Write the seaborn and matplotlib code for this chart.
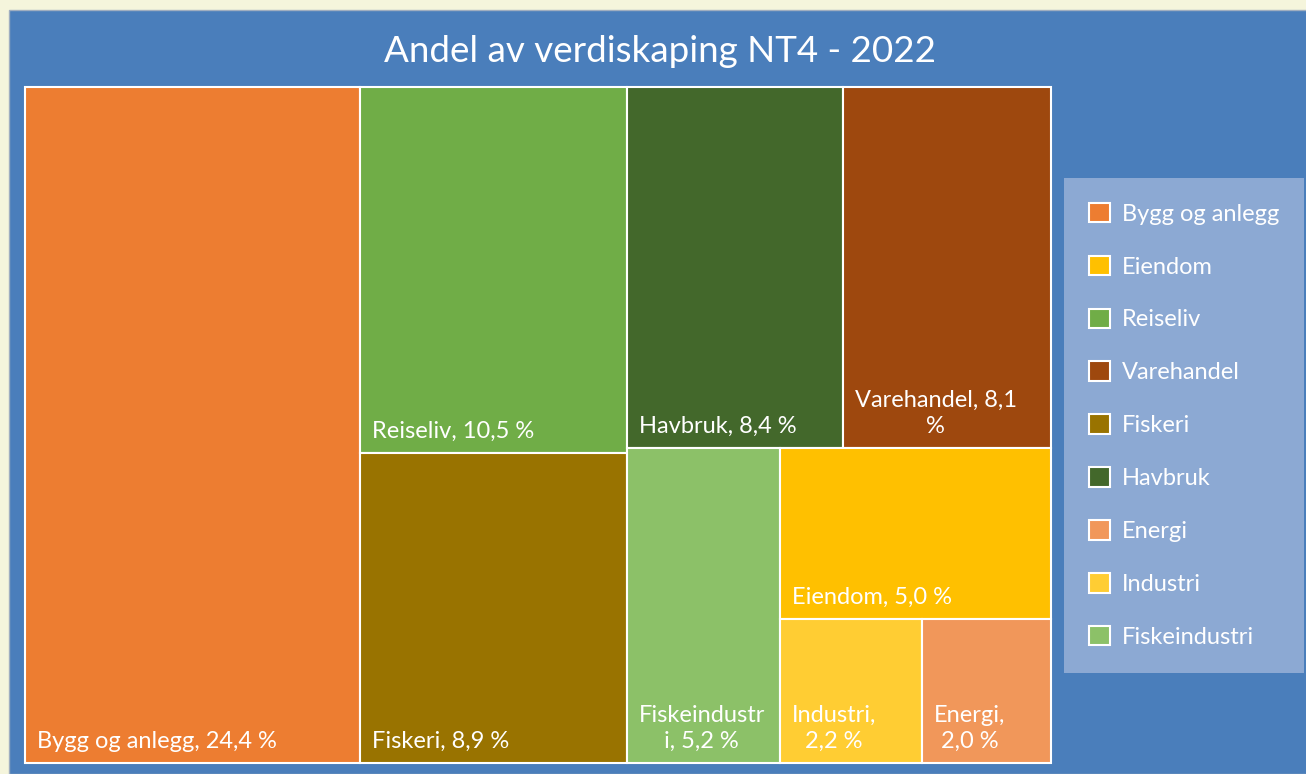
import matplotlib
matplotlib.use("Agg")
import matplotlib.pyplot as plt
from matplotlib.patches import Patch, Rectangle
import seaborn as sns

# Data
names = ["Bygg og anlegg", "Reiseliv", "Fiskeri", "Havbruk", "Varehandel",
         "Fiskeindustri", "Eiendom", "Industri", "Energi"]
shares = [24.4, 10.5, 8.9, 8.4, 8.1, 5.2, 5.0, 2.2, 2.0]
colors = ["#ED7D31", "#70AD47", "#997300", "#43682B", "#9E480E",
          "#8CC168", "#FFC000", "#FFCD33", "#F1975A"]
labels = ["Bygg og anlegg, 24,4 %", "Reiseliv, 10,5 %", "Fiskeri, 8,9 %",
          "Havbruk, 8,4 %", "Varehandel, 8,1\n%", "Fiskeindustr\ni, 5,2 %",
          "Eiendom, 5,0 %", "Industri,\n2,2 %", "Energi,\n2,0 %"]
legend_order = ["Bygg og anlegg", "Eiendom", "Reiseliv", "Varehandel", "Fiskeri",
                "Havbruk", "Energi", "Industri", "Fiskeindustri"]

# treemap nesting: "h" = side by side, "v" = stacked top to bottom
tree = ("h", [0, ("v", [1, 2]),
              ("v", [("h", [3, 4]), ("h", [5, ("v", [6, ("h", [7, 8])])])])])


def total(node):
    if isinstance(node, int):
        return shares[node]
    return sum(total(c) for c in node[1])


def place(node, x, y, w, h, out):
    if isinstance(node, int):
        out[node] = (x, y, w, h)
        return
    d, kids = node
    t = total(node)
    for k in kids:
        f = total(k) / t
        if d == "h":
            place(k, x, y, w * f, h, out)
            x += w * f
        else:
            place(k, x, y, w, h * f, out)
            y += h * f


rects = {}
place(tree, 0, 0, 1, 1, rects)

sns.set_theme(style="white")
plt.rcParams["font.family"] = ["Lato", "DejaVu Sans"]

W, H = 1306, 774
fig = plt.figure(figsize=(W / 100, H / 100), dpi=100, facecolor="#F5F5DC")
fig.add_artist(Rectangle((9 / W, 0), 1, 1 - 10 / H, transform=fig.transFigure,
                         facecolor="#4A7EBB", edgecolor="#A0AEC0", lw=1, zorder=-5))

ax = fig.add_axes([25 / W, 11 / H, 1026 / W, 676 / H])
ax.set_xlim(0, 1)
ax.set_ylim(1, 0)
ax.axis("off")

for i in range(len(names)):
    x, y, w, h = rects[i]
    ax.bar(x, h, width=w, bottom=y, align="edge", color=colors[i],
           edgecolor="white", linewidth=1.5, clip_on=False)
    ax.annotate(labels[i], xy=(x, y + h), xytext=(8.6, 8.0), textcoords="offset points",
                ha="left", va="bottom", multialignment="center", linespacing=1.3,
                color="white", fontsize=17)

fig.text(660 / W, 1 - 52 / H, "Andel av verdiskaping NT4 - 2022", ha="center",
         va="center", color="white", fontsize=26.5)

handles = [Patch(facecolor=colors[names.index(n)], edgecolor="white", linewidth=1.5)
           for n in legend_order]
leg = fig.legend(handles, legend_order, loc="upper left",
                 bbox_to_anchor=(1064 / W, 1 - 178 / H), borderaxespad=0,
                 frameon=True, fancybox=False, facecolor="#8CA9D3", edgecolor="none",
                 framealpha=1, fontsize=17, labelcolor="white",
                 handlelength=0.9, handleheight=0.9, handletextpad=0.5,
                 labelspacing=1.31, borderpad=1.05)

fig.savefig("out.png", dpi=100, facecolor=fig.get_facecolor())
